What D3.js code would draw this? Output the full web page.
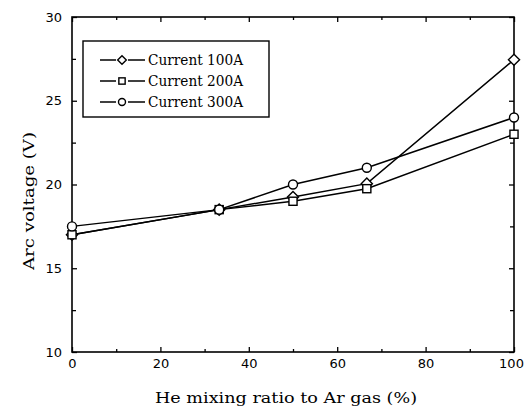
<!DOCTYPE html>
<html>
<head>
<meta charset="utf-8">
<script src="https://cdn.jsdelivr.net/npm/d3@7"></script>
<style>
  html, body { margin: 0; padding: 0; background: #fff; }
  svg { display: block; }
</style>
</head>
<body>
<svg id="chart" width="529" height="412"></svg>
<script>
// He mixing ratio (%) and measured arc voltage (V) at three currents
const heRatio = [0, 33.3, 50, 66.7, 100];
const current100A = [17.0, 18.5, 19.25, 20.05, 27.45];
const current200A = [17.0, 18.5, 19.0, 19.75, 23.0];
const current300A = [17.5, 18.5, 20.0, 21.0, 24.0];
const seriesNames = ["Current 100A", "Current 200A", "Current 300A"];
const seriesShapes = ["diamond", "square", "circle"];
const xTicks = [0, 20, 40, 60, 80, 100];
const yTicks = [10, 15, 20, 25, 30];

const series = [current100A, current200A, current300A].map((vals, i) => ({
  name: seriesNames[i],
  shape: seriesShapes[i],
  points: heRatio.map((x, j) => ({ x, y: vals[j] }))
}));

const svg = d3.select("#chart");
const plot = { left: 72, right: 514, top: 17, bottom: 352 };

const x = d3.scaleLinear().domain([0, 100]).range([plot.left, plot.right]);
const y = d3.scaleLinear().domain([10, 30]).range([plot.bottom, plot.top]);

const sansFont = "'DejaVu Sans', Arial, sans-serif";
const serifFont = "'DejaVu Serif', 'Liberation Serif', serif";

// Inward ticks on all four sides, major and minor
function tickAxis(axisFn, scale, translate, values, size) {
  const g = svg.append("g")
    .attr("transform", translate)
    .call(axisFn(scale).tickValues(values).tickSize(size).tickFormat(""));
  g.select(".domain").remove();
  g.selectAll(".tick line").attr("stroke", "#000").attr("stroke-width", 1.3);
  return g;
}
const xMinor = d3.range(10, 100, 20);
const yMinor = d3.range(12.5, 30, 5);
tickAxis(d3.axisTop, x, `translate(0,${plot.bottom})`, xTicks, 5);
tickAxis(d3.axisTop, x, `translate(0,${plot.bottom})`, xMinor, 3);
tickAxis(d3.axisBottom, x, `translate(0,${plot.top})`, xTicks, 5);
tickAxis(d3.axisBottom, x, `translate(0,${plot.top})`, xMinor, 3);
tickAxis(d3.axisRight, y, `translate(${plot.left},0)`, yTicks, 5);
tickAxis(d3.axisRight, y, `translate(${plot.left},0)`, yMinor, 4);
tickAxis(d3.axisLeft, y, `translate(${plot.right},0)`, yTicks, 5);
tickAxis(d3.axisLeft, y, `translate(${plot.right},0)`, yMinor, 4);

// Frame
svg.append("rect")
  .attr("x", plot.left).attr("y", plot.top)
  .attr("width", plot.right - plot.left).attr("height", plot.bottom - plot.top)
  .attr("fill", "none").attr("stroke", "#000").attr("stroke-width", 1.6);

// Tick labels
const xLab = d3.axisBottom(x).tickValues(xTicks).tickSize(0).tickPadding(7);
const gx = svg.append("g").attr("transform", `translate(0,${plot.bottom})`).call(xLab);
gx.select(".domain").remove();
gx.selectAll("text").attr("font-family", sansFont).attr("font-size", 13).attr("fill", "#000");
gx.selectAll(".tick").filter(d => d === 100).select("text").attr("dx", -3);

const yLab = d3.axisLeft(y).tickValues(yTicks).tickSize(0).tickPadding(10);
const gy = svg.append("g").attr("transform", `translate(${plot.left},0)`).call(yLab);
gy.select(".domain").remove();
gy.selectAll("text").attr("font-family", sansFont).attr("font-size", 13).attr("fill", "#000");

// Axis titles
svg.append("text")
  .attr("x", 286).attr("y", 403)
  .attr("text-anchor", "middle")
  .attr("font-family", serifFont).attr("font-size", 15)
  .attr("textLength", 262).attr("lengthAdjust", "spacingAndGlyphs")
  .text("He mixing ratio to Ar gas (%)");

svg.append("text")
  .attr("transform", "translate(34,201) rotate(-90)")
  .attr("text-anchor", "middle")
  .attr("font-family", serifFont).attr("font-size", 15)
  .attr("textLength", 138).attr("lengthAdjust", "spacingAndGlyphs")
  .text("Arc voltage (V)");

// Marker drawing
function drawMarker(g, shape, cx, cy, s) {
  if (shape === "circle") {
    g.append("circle").attr("cx", cx).attr("cy", cy).attr("r", s * 0.5)
      .attr("fill", "#fff").attr("stroke", "#000").attr("stroke-width", 1.4);
  } else if (shape === "square") {
    g.append("rect").attr("x", cx - s * 0.45).attr("y", cy - s * 0.45)
      .attr("width", s * 0.9).attr("height", s * 0.9)
      .attr("fill", "#fff").attr("stroke", "#000").attr("stroke-width", 1.4);
  } else {
    const r = s * 0.62;
    g.append("path")
      .attr("d", `M${cx},${cy - r}L${cx + r},${cy}L${cx},${cy + r}L${cx - r},${cy}Z`)
      .attr("fill", "#fff").attr("stroke", "#000").attr("stroke-width", 1.4);
  }
}

const line = d3.line().x(d => x(d.x)).y(d => y(d.y));

// Lines first, then markers on top
series.forEach(s => {
  svg.append("path").datum(s.points)
    .attr("d", line)
    .attr("fill", "none").attr("stroke", "#000").attr("stroke-width", 1.5);
});
series.forEach(s => {
  const g = svg.append("g");
  s.points.forEach(p => drawMarker(g, s.shape, x(p.x), y(p.y), 9));
});

// Legend: short line, gap, marker, gap, short line, then label
const legend = svg.append("g");
legend.append("rect")
  .attr("x", 83).attr("y", 41).attr("width", 186).attr("height", 76)
  .attr("fill", "#fff").attr("stroke", "#000").attr("stroke-width", 1.4);
series.forEach((s, i) => {
  const ly = 60 + i * 21;
  [[100, 116], [128, 145]].forEach(([a, b]) => {
    legend.append("line").attr("x1", a).attr("x2", b).attr("y1", ly).attr("y2", ly)
      .attr("stroke", "#000").attr("stroke-width", 1.5);
  });
  drawMarker(legend, s.shape, 122, ly, 7);
  legend.append("text")
    .attr("x", 148).attr("y", ly + 5)
    .attr("font-family", serifFont).attr("font-size", 14)
    .attr("textLength", 95).attr("lengthAdjust", "spacingAndGlyphs")
    .text(s.name);
});
</script>
</body>
</html>
